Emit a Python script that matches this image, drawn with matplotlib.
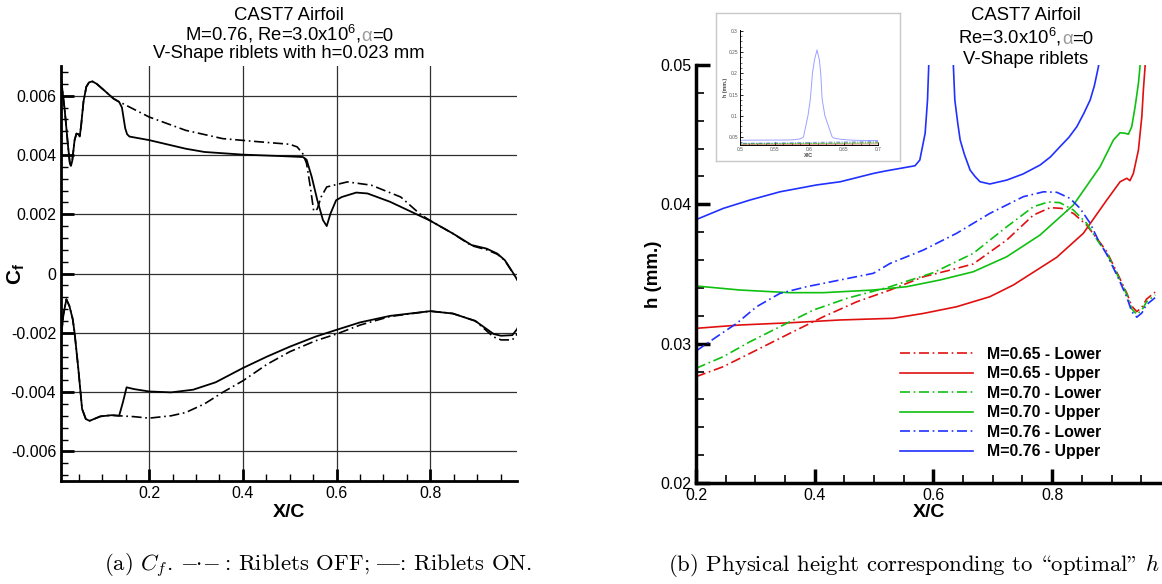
import matplotlib
matplotlib.use('Agg')
from matplotlib import pyplot as plt
from matplotlib.ticker import MultipleLocator, FixedLocator
from matplotlib.offsetbox import TextArea, HPacker, AnnotationBbox

plt.rcParams['font.family'] = ['Liberation Sans', 'DejaVu Sans']
plt.rcParams['mathtext.fontset'] = 'custom'
plt.rcParams['mathtext.rm'] = 'Liberation Sans'
plt.rcParams['mathtext.it'] = 'Liberation Sans:italic'
plt.rcParams['mathtext.bf'] = 'Liberation Sans:bold'

# ---------------- (a) skin friction, M=0.76 ----------------
x_up_on = [0.012, 0.02, 0.027, 0.031, 0.033, 0.036, 0.041, 0.045, 0.049, 0.052, 0.055, 0.06, 0.066,
           0.072, 0.079, 0.088, 0.104, 0.124, 0.136, 0.142, 0.146, 0.149, 0.153, 0.158, 0.2, 0.278,
           0.318, 0.4, 0.484, 0.528, 0.536, 0.547, 0.559, 0.571, 0.579, 0.587, 0.599, 0.611, 0.642,
           0.666, 0.714, 0.753, 0.8, 0.848, 0.888, 0.92, 0.943, 0.959, 0.975, 0.989]
cf_up_on = [0.0066, 0.0055, 0.0043, 0.0037, 0.00363, 0.0038, 0.0045, 0.00472, 0.0047, 0.00462, 0.005,
            0.0058, 0.0063, 0.00645, 0.00648, 0.0064, 0.00618, 0.0059, 0.00579, 0.0056, 0.0052, 0.0049,
            0.0047, 0.00462, 0.0045, 0.00421, 0.0041, 0.00401, 0.00396, 0.00393, 0.00384, 0.00326,
            0.00247, 0.0018, 0.0016, 0.00202, 0.00247, 0.00258, 0.00273, 0.0027, 0.00242, 0.00213,
            0.00178, 0.00135, 0.00096, 0.00084, 0.00067, 0.00045, 0.00006, -0.0003]

x_up_off = [0.012, 0.02, 0.027, 0.031, 0.033, 0.036, 0.041, 0.045, 0.049, 0.052, 0.055, 0.06, 0.066,
            0.072, 0.079, 0.088, 0.104, 0.124, 0.136, 0.144, 0.2, 0.278, 0.357, 0.437, 0.5, 0.516,
            0.528, 0.536, 0.544, 0.551, 0.555, 0.559, 0.567, 0.579, 0.623, 0.674, 0.737, 0.777, 0.8,
            0.848, 0.888, 0.92, 0.943, 0.959, 0.975, 0.989]
cf_up_off = [0.0066, 0.0055, 0.0043, 0.0037, 0.00363, 0.0038, 0.0045, 0.00472, 0.0047, 0.00462, 0.005,
             0.0058, 0.0063, 0.00645, 0.00648, 0.0064, 0.00618, 0.0059, 0.00579, 0.00573, 0.00528,
             0.00483, 0.00455, 0.00444, 0.00436, 0.00427, 0.00404, 0.00371, 0.00292, 0.00213, 0.0021,
             0.00219, 0.00258, 0.00292, 0.00309, 0.00298, 0.00258, 0.00202, 0.00178, 0.00135, 0.00094,
             0.0008, 0.00065, 0.00044, 0.00005, -0.0003]

x_lo_on = [0.012, 0.017, 0.0235, 0.03, 0.037, 0.041, 0.049, 0.057, 0.065, 0.073, 0.096, 0.12, 0.136,
           0.144, 0.152, 0.168, 0.2, 0.247, 0.294, 0.342, 0.4, 0.452, 0.5, 0.555, 0.6, 0.65, 0.714,
           0.8, 0.848, 0.896, 0.935, 0.951, 0.975, 0.985, 0.989]
cf_lo_on = [-0.0022, -0.0014, -0.00087, -0.0011, -0.00154, -0.002, -0.00322, -0.00457, -0.00491,
            -0.00497, -0.00482, -0.00478, -0.0048, -0.00435, -0.00384, -0.0039, -0.00398, -0.00401,
            -0.00392, -0.00367, -0.00319, -0.0028, -0.00247, -0.00213, -0.0019, -0.00165, -0.00143,
            -0.00127, -0.00135, -0.0016, -0.00204, -0.0021, -0.00208, -0.00188, -0.00174]

x_lo_off = [0.012, 0.017, 0.0235, 0.03, 0.037, 0.041, 0.049, 0.057, 0.065, 0.073, 0.096, 0.12, 0.136,
            0.168, 0.2, 0.247, 0.278, 0.318, 0.357, 0.4, 0.452, 0.5, 0.555, 0.6, 0.65, 0.714, 0.8,
            0.848, 0.896, 0.935, 0.951, 0.975, 0.985, 0.989]
cf_lo_off = [-0.0022, -0.0014, -0.00087, -0.0011, -0.00154, -0.002, -0.00322, -0.00457, -0.00491,
             -0.00497, -0.00482, -0.00478, -0.0048, -0.00483, -0.00488, -0.0048, -0.00469, -0.0044,
             -0.00401, -0.00362, -0.00306, -0.00264, -0.00227, -0.00204, -0.00174, -0.00145, -0.00127,
             -0.00135, -0.0016, -0.00214, -0.00224, -0.00224, -0.00205, -0.00195]

cf_ticks = [-0.006, -0.004, -0.002, 0, 0.002, 0.004, 0.006]
cf_ticklabels = ['-0.006', '-0.004', '-0.002', '0', '0.002', '0.004', '0.006']
xc_ticks = [0.2, 0.4, 0.6, 0.8]
xc_ticklabels = ['0.2', '0.4', '0.6', '0.8']

# ---------------- (b) optimal riblet height ----------------
x_065_lo = [0.2, 0.246, 0.302, 0.358, 0.4145, 0.471, 0.527, 0.583, 0.628, 0.667, 0.7235, 0.7684, 0.7965,
            0.816, 0.8357, 0.858, 0.878, 0.892, 0.9115, 0.926, 0.934, 0.9425, 0.951, 0.959, 0.9734]
h_065_lo = [0.02763, 0.02835, 0.02954, 0.03074, 0.03193, 0.03301, 0.03385, 0.0348, 0.03528, 0.03572,
            0.03744, 0.03923, 0.03976, 0.03971, 0.03935, 0.03851, 0.0374, 0.0366, 0.0349, 0.0336,
            0.0327, 0.0323, 0.0326, 0.0332, 0.0337]
x_065_up = [0.2, 0.274, 0.358, 0.4426, 0.532, 0.583, 0.639, 0.695, 0.7346, 0.774, 0.8077, 0.8525, 0.892,
            0.9144, 0.9257, 0.931, 0.9368, 0.9453, 0.951, 0.9536, 0.9565, 0.958]
h_065_up = [0.0311, 0.03134, 0.0315, 0.0317, 0.03182, 0.03217, 0.03265, 0.03337, 0.03421, 0.03528,
            0.0362, 0.03792, 0.04031, 0.04162, 0.04187, 0.0417, 0.04222, 0.0439, 0.04629, 0.0482,
            0.0499, 0.0515]
x_070_lo = [0.2, 0.246, 0.291, 0.3415, 0.3977, 0.454, 0.527, 0.6, 0.667, 0.7235, 0.7684, 0.7936, 0.813,
            0.8357, 0.858, 0.878, 0.892, 0.9115, 0.926, 0.934, 0.9425, 0.951, 0.959, 0.9734]
h_070_lo = [0.02823, 0.02907, 0.03014, 0.03122, 0.03241, 0.03325, 0.03409, 0.0351, 0.03648, 0.03839,
            0.03983, 0.04017, 0.04012, 0.03959, 0.03864, 0.0373, 0.0365, 0.0348, 0.0335, 0.0325,
            0.0321, 0.0324, 0.033, 0.0335]
x_070_up = [0.2, 0.274, 0.358, 0.4145, 0.4987, 0.555, 0.611, 0.667, 0.7235, 0.7796, 0.8357, 0.8807,
            0.9032, 0.9144, 0.923, 0.9284, 0.934, 0.9397, 0.9453, 0.948, 0.95]
h_070_up = [0.03414, 0.03385, 0.03366, 0.03366, 0.03385, 0.03409, 0.03457, 0.03516, 0.03624, 0.0378,
            0.03995, 0.0427, 0.04462, 0.04514, 0.0451, 0.04503, 0.04557, 0.047, 0.04869, 0.0499, 0.0515]
x_076_lo = [0.2, 0.235, 0.2686, 0.302, 0.3415, 0.3865, 0.4426, 0.4988, 0.527, 0.583, 0.639, 0.695,
            0.7515, 0.7855, 0.808, 0.83, 0.847, 0.864, 0.878, 0.892, 0.9115, 0.926, 0.934, 0.9425,
            0.951, 0.959, 0.9734]
h_076_lo = [0.02947, 0.0305, 0.03146, 0.03265, 0.03361, 0.03409, 0.03457, 0.03505, 0.03576, 0.03672,
            0.03792, 0.03935, 0.04055, 0.0409, 0.04086, 0.04043, 0.03971, 0.03864, 0.0374, 0.0364,
            0.0347, 0.0333, 0.0323, 0.0319, 0.0322, 0.0328, 0.0333]
x_076_up = [0.2, 0.246, 0.291, 0.3415, 0.403, 0.443, 0.499, 0.52, 0.544, 0.569, 0.577, 0.586, 0.59,
            0.592, 0.5985, 0.602, 0.605, 0.608, 0.6116, 0.615, 0.617, 0.619, 0.623, 0.6336, 0.636,
            0.641, 0.645, 0.652, 0.6617, 0.67, 0.6785, 0.695, 0.7235, 0.751, 0.7796, 0.797, 0.813,
            0.828, 0.8415, 0.853, 0.864, 0.871, 0.878, 0.882]
h_076_up = [0.0389, 0.03971, 0.04031, 0.0409, 0.04139, 0.04162, 0.04222, 0.0424, 0.04258, 0.04277,
            0.04318, 0.0451, 0.04749, 0.0499, 0.1, 0.14, 0.2, 0.232, 0.255, 0.232, 0.2, 0.14, 0.1,
            0.0499, 0.04749, 0.0458, 0.04462, 0.0436, 0.04246, 0.042, 0.04162, 0.04146, 0.04174,
            0.04218, 0.04282, 0.0434, 0.04413, 0.0448, 0.04557, 0.0465, 0.04749, 0.0485, 0.0499, 0.0515]

h_ticks = [0.02, 0.03, 0.04, 0.05]
h_ticklabels = ['0.02', '0.03', '0.04', '0.05']
inset_xticks = [0.5, 0.55, 0.6, 0.65, 0.7]
inset_xticklabels = ['0.5', '0.55', '0.6', '0.65', '0.7']
inset_yticks = [0.05, 0.1, 0.15, 0.2, 0.25, 0.3]
inset_yticklabels = ['0.05', '0.1', '0.15', '0.2', '0.25', '0.3']

series_b = [
    (x_065_lo, h_065_lo, '#e01010', 'dashdot', 'M=0.65 - Lower'),
    (x_065_up, h_065_up, '#e01010', 'solid', 'M=0.65 - Upper'),
    (x_070_lo, h_070_lo, '#10c010', 'dashdot', 'M=0.70 - Lower'),
    (x_070_up, h_070_up, '#10c010', 'solid', 'M=0.70 - Upper'),
    (x_076_lo, h_076_lo, '#2030ff', 'dashdot', 'M=0.76 - Lower'),
    (x_076_up, h_076_up, '#2030ff', 'solid', 'M=0.76 - Upper'),
]

DASHDOT = (0, (6, 2.2, 1, 2.2))
W, H = 1162.0, 584.0


def fbox(x0, y0, x1, y1):
    # pixel box (top-left origin) -> figure fraction rect
    return [x0 / W, 1 - y1 / H, (x1 - x0) / W, (y1 - y0) / H]


fig = plt.figure(figsize=(W / 100, H / 100), dpi=100)


def title_line(x, y, parts, fs=13.3):
    boxes = [TextArea(t, textprops=dict(fontsize=fs, color=c)) for t, c in parts]
    pack = HPacker(children=boxes, align='baseline', pad=0, sep=0)
    ab = AnnotationBbox(pack, (x / W, 1 - y / H), xycoords='figure fraction', frameon=False,
                        box_alignment=(0.5, 0.5), pad=0)
    fig.add_artist(ab)


# ---------------- left panel ----------------
ax1 = fig.add_axes(fbox(61, 66, 517, 481))
ax1.plot(x_up_off, cf_up_off, color='black', linewidth=1.2, linestyle=DASHDOT)
ax1.plot(x_lo_off, cf_lo_off, color='black', linewidth=1.2, linestyle=DASHDOT)
ax1.plot(x_up_on, cf_up_on, color='black', linewidth=1.3)
ax1.plot(x_lo_on, cf_lo_on, color='black', linewidth=1.3)
ax1.set_xlim(0.012, 0.985)
ax1.set_ylim(-0.007, 0.007)
ax1.xaxis.set_major_locator(FixedLocator(xc_ticks))
ax1.set_xticklabels(xc_ticklabels)
ax1.xaxis.set_minor_locator(MultipleLocator(0.05))
ax1.yaxis.set_major_locator(FixedLocator(cf_ticks))
ax1.set_yticklabels(cf_ticklabels)
ax1.yaxis.set_minor_locator(MultipleLocator(0.0004))
ax1.grid(which='major', color='#303030', linewidth=0.9)
ax1.set_axisbelow(True)
ax1.tick_params(which='major', direction='in', length=9, width=2, labelsize=11.5)
ax1.tick_params(which='minor', direction='in', length=5, width=1)
for s in ['top', 'right']:
    ax1.spines[s].set_visible(False)
for s in ['left', 'bottom']:
    ax1.spines[s].set_linewidth(2)
ax1.set_xlabel('X/C', fontsize=14, fontweight='bold')
ax1.xaxis.set_label_coords(0.5, -0.055)
ax1.set_ylabel(r'$\mathbf{C_f}$', fontsize=15)
ax1.yaxis.set_label_coords(-0.075, 0.5)

title_line(289, 15, [('CAST7 Airfoil', 'black')])
title_line(289, 34, [(r'M=0.76, Re=3.0x10$\mathregular{^6}$,', 'black'), ('α', '#9a9a9a'), ('=0', 'black')])
title_line(289, 53, [('V-Shape riblets with h=0.023 mm', 'black')])

# ---------------- right panel ----------------
ax2 = fig.add_axes(fbox(696, 65, 1162, 483))
for xs, hs, col, ls, lab in series_b:
    style = DASHDOT if ls == 'dashdot' else 'solid'
    ax2.plot(xs, hs, color=col, linewidth=1.2, linestyle=style, label=lab)
ax2.set_xlim(0.2, 0.985)
ax2.set_ylim(0.02, 0.05)
ax2.xaxis.set_major_locator(FixedLocator(xc_ticks))
ax2.set_xticklabels(xc_ticklabels)
ax2.xaxis.set_minor_locator(MultipleLocator(0.05))
ax2.yaxis.set_major_locator(FixedLocator(h_ticks))
ax2.set_yticklabels(h_ticklabels)
ax2.yaxis.set_minor_locator(MultipleLocator(0.002))
ax2.tick_params(which='major', direction='in', length=10, width=2.5, labelsize=11.5)
ax2.tick_params(which='minor', direction='in', length=6, width=1.2)
for s in ['top', 'right']:
    ax2.spines[s].set_visible(False)
for s in ['left', 'bottom']:
    ax2.spines[s].set_linewidth(2.5)
ax2.set_xlabel('X/C', fontsize=14, fontweight='bold')
ax2.xaxis.set_label_coords(0.5, -0.05)
ax2.set_ylabel('h (mm.)', fontsize=13.5, fontweight='bold')
ax2.yaxis.set_label_coords(-0.073, 0.5)
leg = ax2.legend(loc='upper left', bbox_to_anchor=(900 / W, 1 - 347 / H), bbox_transform=fig.transFigure,
                 frameon=False, borderpad=0, borderaxespad=0, handlelength=4.6, handletextpad=0.9,
                 labelspacing=0.28, prop={'weight': 'bold', 'size': 11.4})

title_line(1026, 15, [('CAST7 Airfoil', 'black')])
title_line(1026, 37, [(r'Re=3.0x10$\mathregular{^6}$,', 'black'), ('α', '#9a9a9a'), ('=0', 'black')])
title_line(1026, 59, [('V-Shape riblets', 'black')])

# inset frame and inset plot
frame = fig.add_axes(fbox(716, 13, 900, 161))
frame.set_xticks([])
frame.set_yticks([])
for s in frame.spines.values():
    s.set_color('#c8c8c8')
    s.set_linewidth(1)

ax3 = fig.add_axes(fbox(740, 30, 878, 145))
for xs, hs, col, ls, lab in series_b:
    style = (0, (4, 1.5, 1, 1.5)) if ls == 'dashdot' else 'solid'
    ax3.plot(xs, hs, color=col, linewidth=0.7, linestyle=style, alpha=0.45)
ax3.set_xlim(0.5, 0.7)
ax3.set_ylim(0.031, 0.302)
ax3.xaxis.set_major_locator(FixedLocator(inset_xticks))
ax3.set_xticklabels(inset_xticklabels)
ax3.yaxis.set_major_locator(FixedLocator(inset_yticks))
ax3.set_yticklabels(inset_yticklabels)
ax3.xaxis.set_minor_locator(MultipleLocator(0.0125))
ax3.yaxis.set_minor_locator(MultipleLocator(0.0125))
ax3.tick_params(which='major', direction='in', length=2.5, width=0.6, labelsize=3.5, pad=1.5,
                labelcolor='#555555')
ax3.tick_params(which='minor', direction='in', length=1.2, width=0.4)
for s in ['top', 'right']:
    ax3.spines[s].set_visible(False)
for s in ['left', 'bottom']:
    ax3.spines[s].set_linewidth(0.7)
ax3.set_xlabel('X/C', fontsize=4, fontweight='bold', labelpad=0.5, color='#444444')
ax3.set_ylabel('h (mm.)', fontsize=3.8, fontweight='bold', labelpad=0.5, color='#444444')

# captions (cmr10 uses TeX OT1 positions: '|' em dash, '\' and '"' curly quotes)
cap_kw = dict(family='cmr10', math_fontfamily='cm', fontsize=16.4, va='center', ha='left')
fig.text(104 / W, 1 - 566 / H, r'(a) $C_f$. $-\!\!\cdot\!\!-$: Riblets OFF; |: Riblets ON.', **cap_kw)
fig.text(668 / W, 1 - 566 / H, '(b) Physical height corresponding to \\optimal" $h^+$', **cap_kw)

fig.savefig('out.png', dpi=100)
plt.close(fig)
